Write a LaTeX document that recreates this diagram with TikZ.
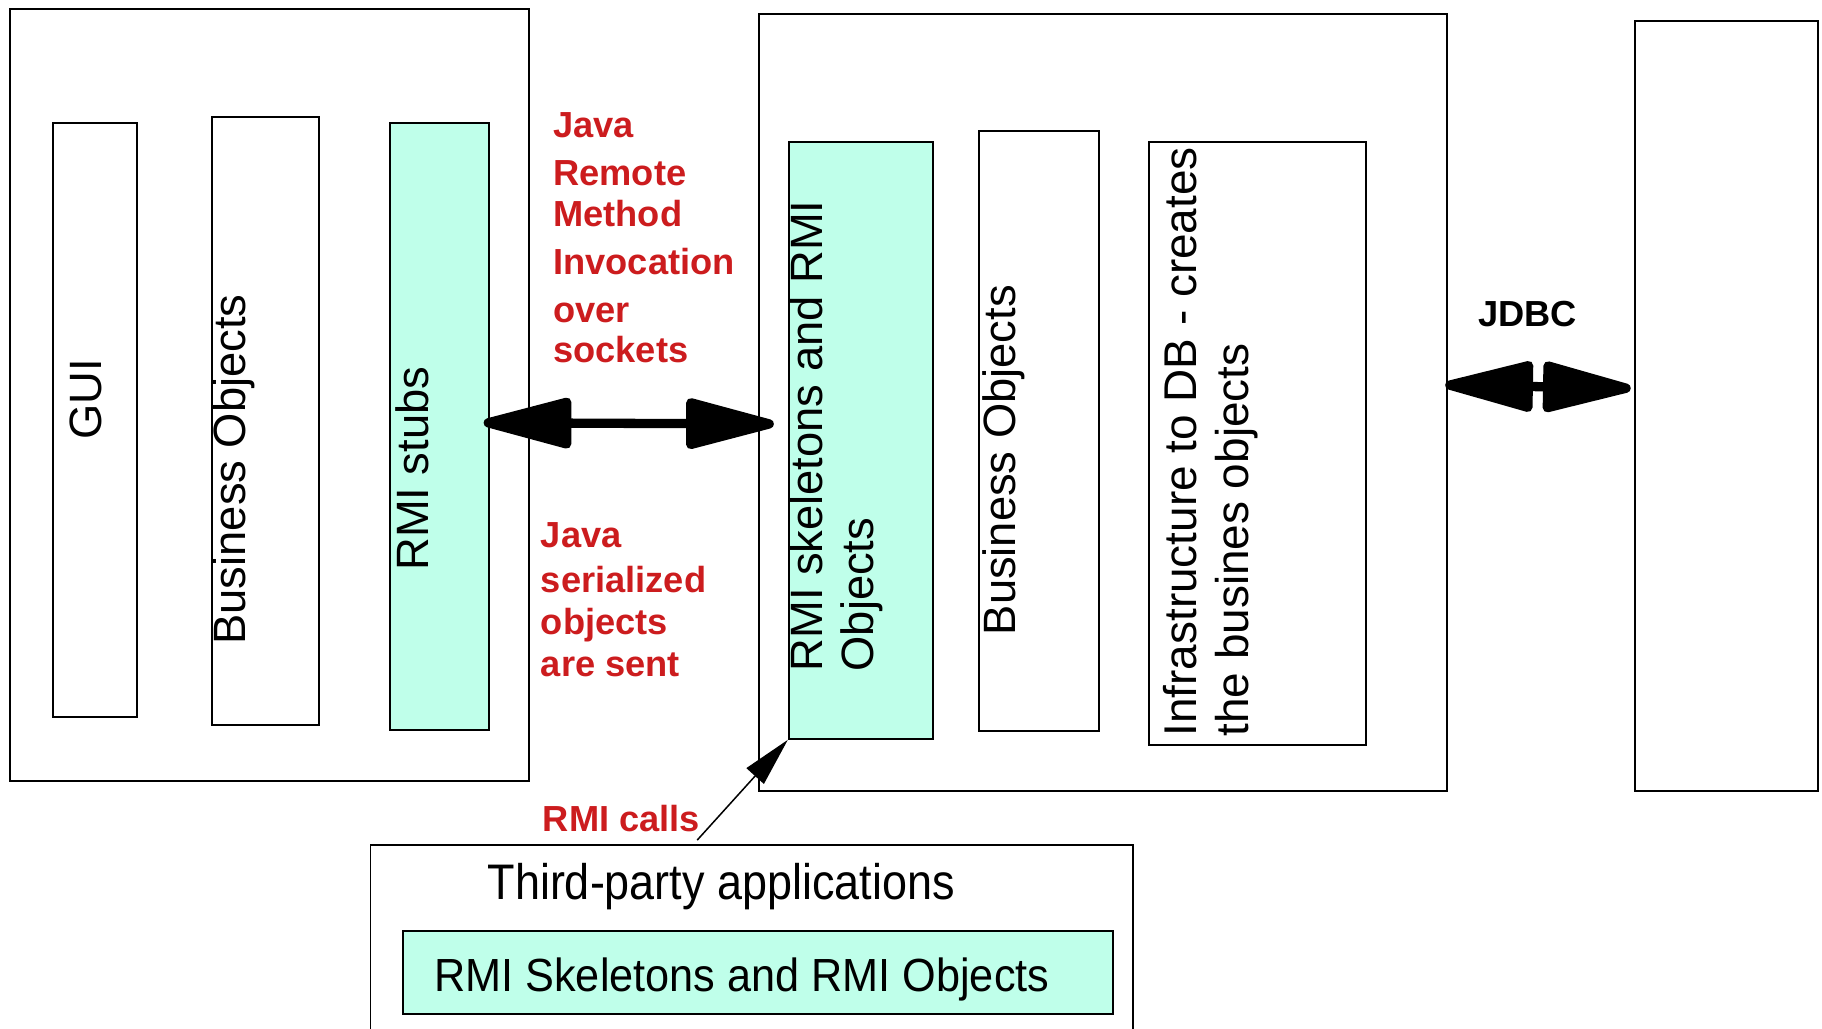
\documentclass[tikz,border=0pt]{standalone}
\usepackage{fontspec}
\usepackage{graphicx}
\setmainfont{Liberation Sans}
\usetikzlibrary{arrows.meta}
\definecolor{stubfill}{RGB}{191,255,234}
\definecolor{callred}{RGB}{204,28,30}

\begin{document}
\begin{tikzpicture}[x=1pt, y=-1pt,
  panel/.style={draw, line width=1.7pt, inner sep=0pt, anchor=north west},
  rmibox/.style={panel, fill=stubfill},
  vlabel/.style={rotate=90, inner sep=0pt, font=\fontsize{39}{44.5}\selectfont},
  hlabel/.style={inner sep=0pt, anchor=base},
  note/.style={inner sep=0pt, text=callred, align=left},
  notefont/.style={font=\fontsize{31.2}{#1}\selectfont\bfseries},
  link/.style={line width=8pt,
    {Triangle[length=88pt,width=44pt,round]}-{Triangle[length=88pt,width=44pt,round]}},
  call/.style={line width=1.3pt, -{Triangle[length=42pt,width=20pt]}},
]
\useasboundingbox (0,0) rectangle (1568,885);
\clip (0,0) rectangle (1568,885);

% client side
\node[panel, minimum width=446pt, minimum height=664pt] (client) at (8,7) {};
\node[panel, minimum width=72pt, minimum height=511pt] (gui) at (45,105) {};
\node[panel, minimum width=92pt, minimum height=523pt] (bo1) at (182,100) {};
\node[rmibox, minimum width=85pt, minimum height=522pt] (stubs) at (335,105) {};
\node[vlabel, anchor=base] (guiT) at (87.5,343.5) {GUI};
\node[vlabel, anchor=base] (bo1T) at (211.7,404) {Business Objects};
\node[vlabel, anchor=base] (stubsT) at (368.6,403.3) {RMI stubs};

% server side
\node[panel, minimum width=592pt, minimum height=669pt] (server) at (652,11) {};
\node[rmibox, minimum width=124pt, minimum height=514pt] (skel) at (678,121) {};
\node[panel, minimum width=103pt, minimum height=516pt] (bo2) at (842,112) {};
\node[panel, minimum width=187pt, minimum height=519pt] (infra) at (988,121) {};
\node[vlabel, anchor=west, align=left] (skelT) at (719.8,578) {RMI skeletons and RMI\\Objects};
\node[vlabel, anchor=base] (bo2T) at (874,396) {Business Objects};
\node[vlabel, anchor=west, align=left, font=\fontsize{39.5}{45}\selectfont] (infraT) at (1041.7,634)
  {Infrastructure to DB - creates\\the busines objects};

% database
\node[panel, minimum width=158pt, minimum height=663pt] (db) at (1406,17) {};

% third-party applications
\node[panel, minimum width=656pt, minimum height=220pt] (third) at (318,726) {};
\node[rmibox, minimum width=611pt, minimum height=72pt] (thirdskel) at (346,800) {};
\node[hlabel, font=\fontsize{43}{48}\selectfont] (thirdT) at (620.7,774)
  {\scalebox{0.9}[1]{Third-party applications}};
\node[hlabel, font=\fontsize{40}{45}\selectfont] (thirdskelT) at (638.4,853.4)
  {\scalebox{0.93}[1]{RMI Skeletons and RMI Objects}};

% annotations
\node[note, notefont=35, anchor=north west] (rmiT) at (476,96.5)
  {Java\\[6.6pt]Remote\\Method\\[6.1pt]Invocation\\[6.5pt]over\\sockets};
\node[note, notefont=36, anchor=north west] (sentT) at (465.3,449.5)
  {Java\\[2.7pt]serialized\\objects\\are sent};
\node[note, notefont=35, anchor=base west] (callsT) at (467,715.7) {RMI calls};
\node[inner sep=0pt, notefont=35, anchor=base west] (jdbcT) at (1272,281) {JDBC};

% connectors
\draw[link] ([shift={(-5.5,-3)}]stubs.east) -- ([shift={(-12,-14)}]skel.west);
\draw[link] ([shift={(-2,-15)}]server.east) -- ([shift={(-2.6,-15.2)}]db.west);
\coordinate (callsend) at (600,723);
\draw[call] (callsend) -- (skel.south west);
\end{tikzpicture}
\end{document}
